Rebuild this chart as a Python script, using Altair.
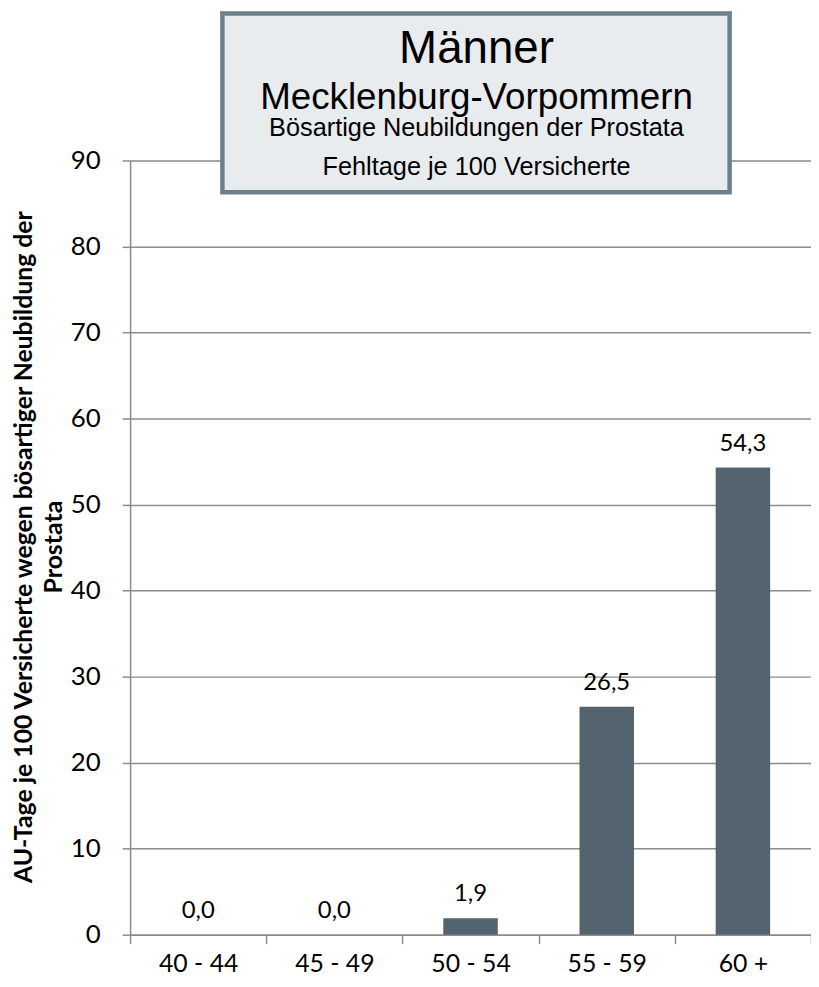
import altair as alt
import pandas as pd

categories = ["40 - 44", "45 - 49", "50 - 54", "55 - 59", "60 +"]
values = [0.0, 0.0, 1.9, 26.5, 54.3]
y_ticks = [0, 10, 20, 30, 40, 50, 60, 70, 80, 90]
title_lines = ["Männer", "Mecklenburg-Vorpommern",
               "Bösartige Neubildungen der Prostata", "Fehltage je 100 Versicherte"]
y_title = ["AU-Tage je 100 Versicherte wegen bösartiger Neubildung der", "Prostata"]

df = pd.DataFrame({
    "cat": categories,
    "val": values,
    "label": [f"{v:.1f}".replace(".", ",") for v in values],
})
one = pd.DataFrame({"k": [0]})

FONT = "Lato"
GRID = "#8C8C8C"

x_enc = alt.X("cat:N", sort=categories, title=None,
              scale=alt.Scale(paddingInner=0, paddingOuter=0),
              axis=alt.Axis(labelAngle=0, labelFont=FONT, labelFontSize=25,
                            labelColor="black", labelPadding=28,
                            labelBaseline="alphabetic",
                            domainColor=GRID, domainWidth=1.5,
                            tickColor=GRID, tickSize=9, tickWidth=1.5,
                            tickBand="extent", grid=False))
y_enc = alt.Y("val:Q", title=y_title,
              scale=alt.Scale(domain=[0, 90], nice=False),
              axis=alt.Axis(values=y_ticks, labelFont=FONT, labelFontSize=26,
                            labelColor="black", labelPadding=22,
                            domainColor=GRID, domainWidth=1.5,
                            tickColor=GRID, tickSize=8, tickWidth=1.5,
                            grid=True, gridColor=GRID, gridWidth=1.5,
                            titleFont=FONT, titleFontSize=25, titleFontWeight="bold",
                            titleColor="black", titleAngle=-90, titleAlign="center",
                            titleBaseline="top", titleLineHeight=30,
                            titleX=-119, titleY=389))

base = alt.Chart(df)
bars = base.mark_bar(color="#53646F", width=alt.RelativeBandSize(0.4)).encode(x=x_enc, y=y_enc)
labels = base.mark_text(font=FONT, fontSize=24, color="black",
                        baseline="alphabetic", dy=-17).encode(
    x=x_enc, y=y_enc, text="label:N")

box = alt.Chart(one).mark_rect(fill="#E8ECEF", stroke="#6B7F8C", strokeWidth=4.5).encode(
    x=alt.value(93), x2=alt.value(604), y=alt.value(-148), y2=alt.value(32))

cx = 349
def line(txt, size, ypos):
    return alt.Chart(one).mark_text(text=txt, font="Liberation Sans", fontSize=size,
                                    fontWeight="normal", color="black", align="center",
                                    baseline="alphabetic").encode(
        x=alt.value(cx), y=alt.value(ypos))

t1 = line(title_lines[0], 46, -98)
t2 = line(title_lines[1], 37, -52)
t3 = line(title_lines[2], 25.5, -25)
t4 = line(title_lines[3], 25.5, 15)

chart = alt.layer(bars, labels, box, t1, t2, t3, t4).properties(
    width=686, height=780,
    autosize=alt.AutoSizeParams(type="none"),
    padding={"left": 123, "top": 150, "right": 0, "bottom": 41},
).configure_view(stroke=None).configure(background="white")

chart.save("out.html", embed_options={"renderer": "svg", "actions": False})
